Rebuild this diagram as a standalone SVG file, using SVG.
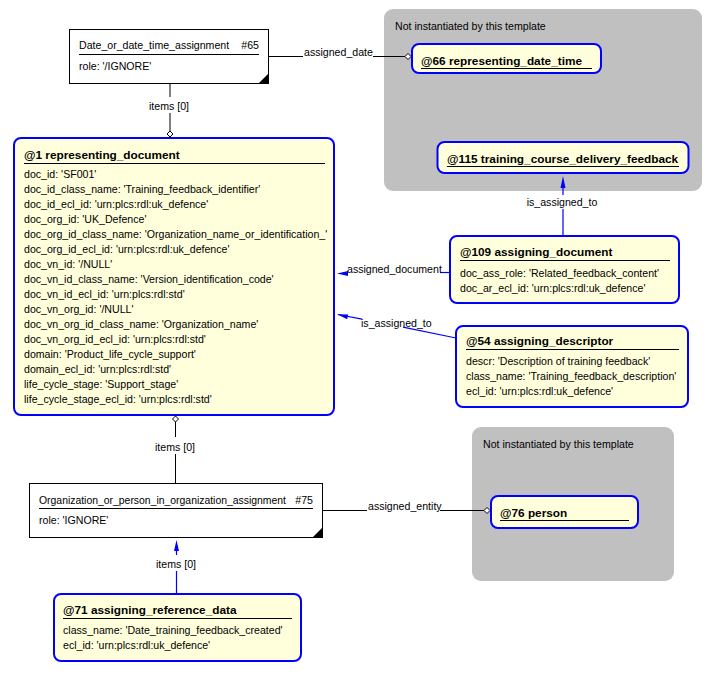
<svg xmlns="http://www.w3.org/2000/svg" width="717" height="677" viewBox="0 0 717 677">
<defs>
<style>
text{font-family:"Liberation Sans",Arial,sans-serif;font-size:10.6px;fill:#000}
.b{font-weight:bold;font-size:11.8px}
.region{fill:#C0C0C0;stroke:none}
.ent{fill:#FFFFDC;stroke:#0000FF;stroke-width:2}
.box{fill:#FFFFFF;stroke:#000;stroke-width:1}
.ul{stroke:#000;stroke-width:1}
.k{stroke:#000;stroke-width:1;fill:none}
.bl{stroke:#0000FF;stroke-width:1.2;fill:none}
.dia{fill:#fff;stroke:#000;stroke-width:1}
.tri{fill:#000}
.ah{fill:#0000FF}
</style>
</defs>
<rect width="717" height="677" fill="#fff"/>
<g id="region-top">
<rect class="region" x="384" y="9" width="318" height="182" rx="9"/>
<text x="395" y="30">Not instantiated by this template</text>
</g>
<g id="region-bottom">
<rect class="region" x="472" y="427" width="202" height="154" rx="9"/>
<text x="483" y="448">Not instantiated by this template</text>
</g>
<g id="connectors">
<path class="k" d="M268,56.5 H303 M373,56.5 H405"/>
<path class="dia" d="M405,56.5 L408,53.5 L411,56.5 L408,59.5 Z"/>
<text x="304" y="56">assigned_date</text>
<path class="k" d="M170,83 V97 M170,113 V131"/>
<path class="dia" d="M170,131 L173,134 L170,137 L167,134 Z"/>
<text x="169" y="110" text-anchor="middle">items [0]</text>
<path class="k" d="M175.5,422 V437 M175.5,454 V483"/>
<path class="dia" d="M175.5,416 L178.5,419 L175.5,422 L172.5,419 Z"/>
<text x="175" y="451" text-anchor="middle">items [0]</text>
<path class="bl" d="M176.5,594 V571 M176.5,555 V549"/>
<path class="ah" d="M176.5,540 L179,551 L174,551 Z"/>
<text x="176" y="567.5" text-anchor="middle">items [0]</text>
<path class="k" d="M322,510.5 H367 M440,510.5 H484"/>
<path class="dia" d="M484,510.5 L487,507.5 L490,510.5 L487,513.5 Z"/>
<text x="368" y="510">assigned_entity</text>
<path class="bl" d="M563,236 V209 M563,195 V186"/>
<path class="ah" d="M563,176 L565.5,188 L560.5,188 Z"/>
<text x="562" y="205.5" text-anchor="middle">is_assigned_to</text>
<path class="bl" d="M440,272.5 H450"/>
<path class="ah" d="M337,273.5 L348,271 L348,276 Z"/>
<text x="347" y="272.5">assigned_document</text>
<path class="bl" d="M338,314.5 L362,319.2 M403,327.2 L456,338"/>
<path class="ah" d="M337,314.3 L348.2,314.4 L347.2,319.3 Z"/>
<text x="361" y="326.5">is_assigned_to</text>
</g>
<g id="n65">
<rect class="box" x="69.5" y="29.5" width="199" height="54"/>
<text x="79" y="49">Date_or_date_time_assignment</text>
<text x="259" y="49" text-anchor="end">#65</text>
<line class="ul" x1="79" y1="54.5" x2="259" y2="54.5"/>
<text x="79" y="69.5">role: '/IGNORE'</text>
<path class="tri" d="M259,83 L268,83 L268,74 Z"/>
</g>
<g id="n1">
<rect class="ent" x="14" y="138" width="320" height="277" rx="7"/>
<text class="b" x="24" y="159">@1 representing_document</text>
<line class="ul" x1="24" y1="163.5" x2="325" y2="163.5"/>
<text x="24" y="177.5">doc_id: 'SF001'</text>
<text x="24" y="192.5">doc_id_class_name: 'Training_feedback_identifier'</text>
<text x="24" y="207.5">doc_id_ecl_id: 'urn:plcs:rdl:uk_defence'</text>
<text x="24" y="222.5">doc_org_id: 'UK_Defence'</text>
<text x="24" y="237.5">doc_org_id_class_name: 'Organization_name_or_identification_'</text>
<text x="24" y="252.5">doc_org_id_ecl_id: 'urn:plcs:rdl:uk_defence'</text>
<text x="24" y="267.5">doc_vn_id: '/NULL'</text>
<text x="24" y="282.5">doc_vn_id_class_name: 'Version_identification_code'</text>
<text x="24" y="297.5">doc_vn_id_ecl_id: 'urn:plcs:rdl:std'</text>
<text x="24" y="312.5">doc_vn_org_id: '/NULL'</text>
<text x="24" y="327.5">doc_vn_org_id_class_name: 'Organization_name'</text>
<text x="24" y="342.5">doc_vn_org_id_ecl_id: 'urn:plcs:rdl:std'</text>
<text x="24" y="357.5">domain: 'Product_life_cycle_support'</text>
<text x="24" y="372.5">domain_ecl_id: 'urn:plcs:rdl:std'</text>
<text x="24" y="387.5">life_cycle_stage: 'Support_stage'</text>
<text x="24" y="402.5">life_cycle_stage_ecl_id: 'urn:plcs:rdl:std'</text>
</g>
<g id="n66">
<rect class="ent" x="412" y="44" width="189" height="29" rx="7"/>
<text class="b" x="421" y="65">@66 representing_date_time</text>
<line class="ul" x1="421" y1="68.5" x2="592" y2="68.5"/>
</g>
<g id="n115">
<rect class="ent" x="437.5" y="142" width="251" height="31" rx="7"/>
<text class="b" x="447" y="162.5">@115 training_course_delivery_feedback</text>
<line class="ul" x1="447" y1="166.5" x2="679" y2="166.5"/>
</g>
<g id="n109">
<rect class="ent" x="450" y="236" width="229" height="67" rx="7"/>
<text class="b" x="460" y="256">@109 assigning_document</text>
<line class="ul" x1="460" y1="260.5" x2="670" y2="260.5"/>
<text x="460" y="276.5">doc_ass_role: 'Related_feedback_content'</text>
<text x="460" y="291.5">doc_ar_ecl_id: 'urn:plcs:rdl:uk_defence'</text>
</g>
<g id="n54">
<rect class="ent" x="456" y="326" width="232" height="81" rx="7"/>
<text class="b" x="466" y="345">@54 assigning_descriptor</text>
<line class="ul" x1="466" y1="349.5" x2="679" y2="349.5"/>
<text x="466" y="365">descr: 'Description of training feedback'</text>
<text x="466" y="380">class_name: 'Training_feedback_description'</text>
<text x="466" y="395">ecl_id: 'urn:plcs:rdl:uk_defence'</text>
</g>
<g id="n75">
<rect class="box" x="29.5" y="483.5" width="293" height="54"/>
<text x="39" y="504" textLength="247" lengthAdjust="spacingAndGlyphs">Organization_or_person_in_organization_assignment</text>
<text x="313" y="504" text-anchor="end">#75</text>
<line class="ul" x1="39" y1="508.5" x2="313" y2="508.5"/>
<text x="39" y="523.5">role: 'IGNORE'</text>
<path class="tri" d="M313,537 L322,537 L322,528 Z"/>
</g>
<g id="n76">
<rect class="ent" x="491" y="496" width="147" height="32" rx="7"/>
<text class="b" x="500" y="516.5">@76 person</text>
<line class="ul" x1="500" y1="520.5" x2="629" y2="520.5"/>
</g>
<g id="n71">
<rect class="ent" x="54" y="594" width="247" height="67" rx="7"/>
<text class="b" x="63" y="614">@71 assigning_reference_data</text>
<line class="ul" x1="63" y1="618.5" x2="292" y2="618.5"/>
<text x="63" y="634">class_name: 'Date_training_feedback_created'</text>
<text x="63" y="649">ecl_id: 'urn:plcs:rdl:uk_defence'</text>
</g>
</svg>
